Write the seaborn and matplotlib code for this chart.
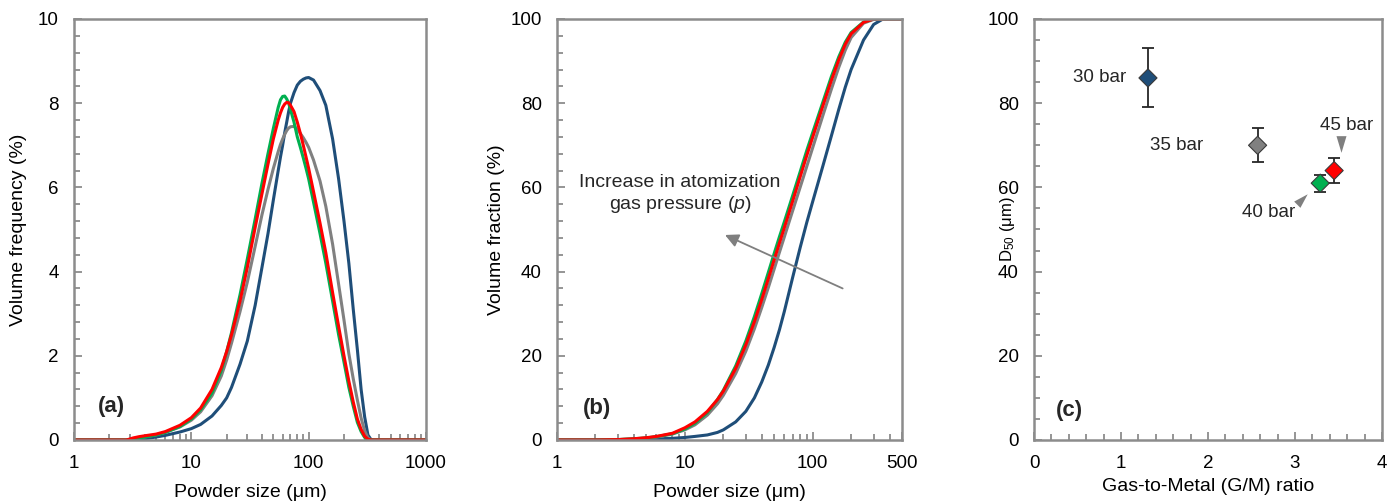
import numpy as np
import pandas as pd
import matplotlib
matplotlib.use("Agg")
import matplotlib.pyplot as plt
import seaborn as sns
from matplotlib.ticker import MultipleLocator, LogLocator, NullFormatter
from matplotlib.path import Path
from matplotlib.transforms import offset_copy

# ---------------------------------------------------------------- data
pressures = ["30 bar", "35 bar", "40 bar", "45 bar"]
colors = ["#1F4E79", "#808080", "#00B050", "#FF0000"]

# (a) volume frequency distribution
size_freq = [1, 2.8, 3.2, 3.6, 4, 5, 6, 8, 10, 12, 15, 18, 20, 22, 26, 30, 35, 40, 45, 50,
             55, 57.5, 60, 62.5, 65, 67.5, 70, 75, 80, 85, 90, 95, 100, 110, 125, 140, 160,
             180, 200, 220, 240, 260, 280, 300, 320, 340, 360, 1000]
freq_30 = [0, 0, 0, 0.01, 0.03, 0.07, 0.11, 0.19, 0.27, 0.37,
           0.57, 0.82, 1.0, 1.25, 1.8, 2.35, 3.2, 4.1, 4.9, 5.7,
           6.4, 6.72, 7.0, 7.3, 7.55, 7.8, 8.0, 8.25, 8.43, 8.52,
           8.57, 8.6, 8.61, 8.55, 8.3, 7.95, 7.15, 6.2, 5.2, 4.2,
           3.1, 2.15, 1.2, 0.55, 0.12, 0.01, 0, 0]
freq_35 = [0, 0, 0.02, 0.05, 0.07, 0.12, 0.18, 0.31, 0.47, 0.67,
           1.05, 1.52, 1.9, 2.3, 3.05, 3.75, 4.6, 5.35, 5.95, 6.45,
           6.85, 7.02, 7.15, 7.26, 7.35, 7.41, 7.44, 7.45, 7.38, 7.28,
           7.18, 7.07, 6.95, 6.65, 6.15, 5.55, 4.65, 3.7, 2.85, 2.05,
           1.45, 0.95, 0.52, 0.22, 0.05, 0, 0, 0]
freq_40 = [0, 0, 0.02, 0.05, 0.07, 0.12, 0.18, 0.32, 0.5, 0.72,
           1.12, 1.65, 2.1, 2.55, 3.45, 4.3, 5.25, 6.1, 6.8, 7.4,
           7.9, 8.08, 8.16, 8.17, 8.1, 8.0, 7.85, 7.55, 7.2, 6.95,
           6.7, 6.45, 6.2, 5.65, 4.9, 4.2, 3.3, 2.5, 1.85, 1.25,
           0.8, 0.42, 0.2, 0.06, 0.01, 0, 0, 0]
freq_45 = [0, 0, 0.05, 0.08, 0.1, 0.14, 0.2, 0.35, 0.53, 0.76,
           1.2, 1.72, 2.1, 2.5, 3.3, 4.1, 5.05, 5.85, 6.55, 7.15,
           7.6, 7.77, 7.9, 7.98, 8.02, 8.01, 7.95, 7.8, 7.55, 7.28,
           7.0, 6.72, 6.45, 5.9, 5.15, 4.45, 3.5, 2.7, 2.0, 1.4,
           0.9, 0.5, 0.25, 0.09, 0.02, 0, 0, 0]

# (b) cumulative volume fraction
size_cum = [1, 2, 3, 4, 5, 6, 8, 10, 12, 15, 18, 20, 25, 30, 35, 40, 45, 50, 55, 60, 70,
            80, 90, 100, 120, 140, 160, 180, 200, 250, 300, 350, 400, 500]
cum_30 = [0, 0, 0, 0.1, 0.15, 0.25, 0.4, 0.6, 0.85, 1.2, 1.8, 2.4, 4.3, 6.8, 10.0, 13.8,
          17.8, 22.0, 26.2, 30.5, 38.8, 45.8, 51.7, 56.6, 65.0, 72.2, 78.5, 83.8, 88.0, 95.0,
          98.7, 99.9, 100, 100]
cum_35 = [0, 0, 0.1, 0.25, 0.45, 0.7, 1.4, 2.4, 3.6, 5.9, 8.6, 10.6, 15.8, 21.1, 26.4, 31.5,
          36.2, 40.6, 44.6, 48.2, 54.6, 60.1, 65.0, 69.4, 77.0, 83.3, 88.5, 92.6, 95.6, 99.0,
          99.9, 100, 100, 100]
cum_40 = [0, 0, 0.1, 0.3, 0.5, 0.8, 1.5, 2.6, 4.0, 6.5, 9.6, 11.8, 17.6, 23.5, 29.3, 34.8,
          39.8, 44.3, 48.3, 51.8, 58.2, 63.8, 68.8, 73.0, 80.2, 86.3, 91.0, 94.5, 96.8, 99.3,
          100, 100, 100, 100]
cum_45 = [0, 0, 0.1, 0.3, 0.55, 0.85, 1.6, 2.9, 4.3, 6.8, 9.6, 11.6, 17.0, 22.6, 28.1, 33.4,
          38.3, 42.8, 46.8, 50.4, 56.9, 62.6, 67.6, 71.9, 79.3, 85.4, 90.3, 94.0, 96.5, 99.2,
          100, 100, 100, 100]

# (c) median size against gas-to-metal ratio
gm_ratio = [1.31, 2.57, 3.29, 3.45]
d50 = [86, 70, 61, 64]
d50_err = [7, 4, 2, 3]

freq_series = [freq_30, freq_35, freq_40, freq_45]
cum_series = [cum_30, cum_35, cum_40, cum_45]

# ---------------------------------------------------------------- style
sns.set_theme(style="white")
plt.rcParams["font.family"] = ["Liberation Sans", "DejaVu Sans"]
plt.rcParams["mathtext.fontset"] = "custom"
plt.rcParams["mathtext.rm"] = "Liberation Sans"
plt.rcParams["mathtext.it"] = "Liberation Sans:italic"

FRAME = "#8C8C8C"
TICK_FS = 13.5
LABEL_FS = 14
W, H = 1395, 503

fig = plt.figure(figsize=(W / 100, H / 100), dpi=100)


def px_axes(left, right, top=19, bottom=440):
    return fig.add_axes([left / W, 1 - bottom / H, (right - left) / W, (bottom - top) / H])


ax_a = px_axes(74, 426)
ax_b = px_axes(557, 902)
ax_c = px_axes(1034, 1382)


def frame(ax):
    for s in ax.spines.values():
        s.set_visible(True)
        s.set_color(FRAME)
        s.set_linewidth(1.8)
    ax.tick_params(which="both", direction="in", color=FRAME, width=1.3,
                   labelsize=TICK_FS, labelcolor="black", pad=11,
                   bottom=True, left=True, top=False, right=False)
    ax.tick_params(which="major", length=6)
    ax.tick_params(which="minor", length=4.5)
    ax.grid(False)


def place_labels(ax, xl, yl, ylab_x, xlab_y=-0.125, ylab_y=0.5, ylab_fs=LABEL_FS):
    ax.set_xlabel(xl, fontsize=LABEL_FS, color="black")
    ax.set_ylabel(yl, fontsize=ylab_fs, color="black")
    ax.xaxis.label.set_va("center")
    ax.yaxis.label.set_va("center")
    ax.xaxis.set_label_coords(0.5, xlab_y)
    ax.yaxis.set_label_coords(ylab_x, ylab_y)


# (a) frequency curves
for vals, c in zip(freq_series, colors):
    sns.lineplot(x=size_freq, y=vals, ax=ax_a, color=c, lw=2.2, estimator=None, sort=False)
ax_a.set_xscale("log")
ax_a.set_xlim(1, 1000)
ax_a.set_ylim(0, 10)
ax_a.set_xticks([1, 10, 100, 1000], labels=["1", "10", "100", "1000"])
ax_a.xaxis.set_minor_locator(LogLocator(base=10, subs=np.arange(2, 10)))
ax_a.xaxis.set_minor_formatter(NullFormatter())
ax_a.yaxis.set_major_locator(MultipleLocator(2))
ax_a.yaxis.set_minor_locator(MultipleLocator(0.4))
frame(ax_a)
place_labels(ax_a, "Powder size (μm)", "Volume frequency (%)", -0.159)
ax_a.text(0.107, 0.08, "(a)", transform=ax_a.transAxes, fontsize=16, fontweight="bold",
          ha="center", va="center")

# (b) cumulative curves
for vals, c in zip(cum_series, colors):
    sns.lineplot(x=size_cum, y=vals, ax=ax_b, color=c, lw=2.2, estimator=None, sort=False)
ax_b.set_xscale("log")
ax_b.set_xlim(1, 500)
ax_b.set_ylim(0, 100)
ax_b.set_xticks([1, 10, 100, 500], labels=["1", "10", "100", "500"])
ax_b.xaxis.set_minor_locator(LogLocator(base=10, subs=np.arange(2, 10)))
ax_b.xaxis.set_minor_formatter(NullFormatter())
ax_b.yaxis.set_major_locator(MultipleLocator(20))
ax_b.yaxis.set_minor_locator(MultipleLocator(4))
frame(ax_b)
place_labels(ax_b, "Powder size (μm)", "Volume fraction (%)", -0.174)
ax_b.text(0.115, 0.076, "(b)", transform=ax_b.transAxes, fontsize=16, fontweight="bold",
          ha="center", va="center")
ax_b.annotate("", xy=(0.487, 0.487), xytext=(0.828, 0.36), xycoords="axes fraction",
              textcoords="axes fraction",
              arrowprops=dict(arrowstyle="-|>", color="#7F7F7F", lw=1.3, mutation_scale=20,
                              shrinkA=0, shrinkB=0))
ax_b.text(0.357, 0.583, "Increase in atomization\ngas pressure ($p$)", transform=ax_b.transAxes,
          fontsize=14, ha="center", va="center", multialignment="center", linespacing=1.25)

# (c) D50 vs G/M ratio
ax_c.errorbar(gm_ratio, d50, yerr=d50_err, fmt="none", ecolor="#262626", elinewidth=1.3,
              capsize=4.3, capthick=1.3, zorder=2)
sns.scatterplot(x=gm_ratio, y=d50, hue=pressures, palette=colors, marker="D", s=85,
                edgecolor="#3A3A3A", linewidth=0.8, legend=False, ax=ax_c, zorder=3)
ax_c.set_xlim(0, 4)
ax_c.set_ylim(0, 100)
ax_c.xaxis.set_major_locator(MultipleLocator(1))
ax_c.xaxis.set_minor_locator(MultipleLocator(0.2))
ax_c.yaxis.set_major_locator(MultipleLocator(20))
ax_c.yaxis.set_minor_locator(MultipleLocator(5))
frame(ax_c)
# the axis title sits in the gap between the 60 and 40 tick labels
place_labels(ax_c, "Gas-to-Metal (G/M) ratio", "D$_{50}$ (μm)", -0.075, xlab_y=-0.11,
             ylab_y=0.5, ylab_fs=12)
ax_c.text(0.103, 0.071, "(c)", transform=ax_c.transAxes, fontsize=16, fontweight="bold",
          ha="center", va="center")

# point labels, offsets in points from each marker
label_offsets = [(-34.6, 0), (-58, 0), (-37.2, -20.9), (8.9, 32.4)]
for gx, dv, name, off in zip(gm_ratio, d50, pressures, label_offsets):
    ax_c.annotate(name, xy=(gx, dv), xytext=off, textcoords="offset points",
                  fontsize=13.5, ha="center", va="center")

# small pointer heads next to the 40 bar and 45 bar markers
head = np.array([[-0.3, 0.5], [0.3, 0.5], [0.0, -0.5], [-0.3, 0.5]])


def pointer(angle_deg):
    t = np.deg2rad(angle_deg)
    rot = np.array([[np.cos(t), -np.sin(t)], [np.sin(t), np.cos(t)]])
    return Path(head @ rot.T, [Path.MOVETO, Path.LINETO, Path.LINETO, Path.CLOSEPOLY])


pointer_specs = {2: (-13.2, -11.5, 135), 3: (4.8, 19.4, 0)}
for idx, (dx, dy, ang) in pointer_specs.items():
    tr = offset_copy(ax_c.transData, fig=fig, x=dx, y=dy, units="points")
    ax_c.plot([gm_ratio[idx]], [d50[idx]], marker=pointer(ang), markersize=12,
              color="#7F7F7F", markeredgewidth=0, linestyle="none", transform=tr)

fig.savefig("out.png", dpi=100)
